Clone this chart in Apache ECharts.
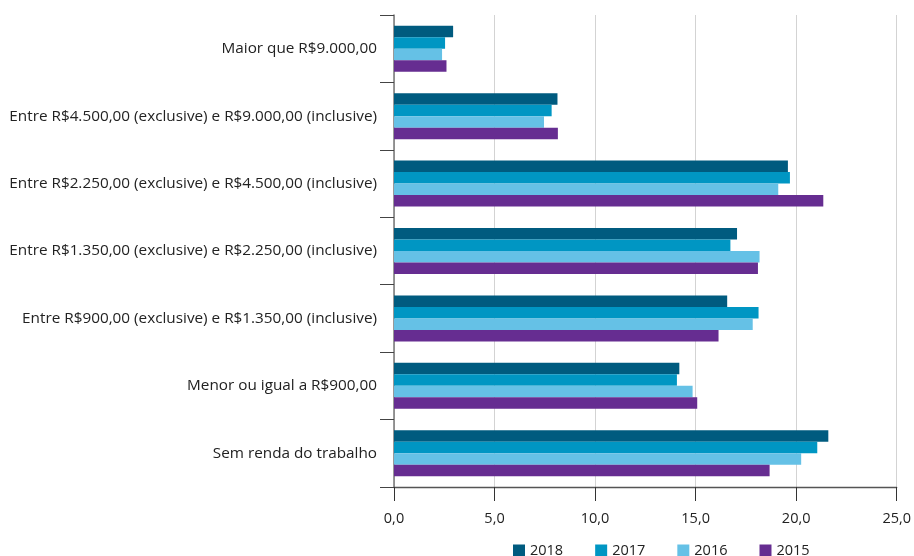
<!DOCTYPE html>
<html>
<head>
<meta charset="utf-8">
<script src="https://cdn.jsdelivr.net/npm/echarts@6/dist/echarts.min.js"></script>
<style>html,body{margin:0;padding:0;background:#fff}#c{width:914px;height:556px}</style>
</head>
<body>
<div id="c"></div>
<script>
const categories = [
  'Maior que R$9.000,00',
  'Entre R$4.500,00 (exclusive) e R$9.000,00 (inclusive)',
  'Entre R$2.250,00 (exclusive) e R$4.500,00 (inclusive)',
  'Entre R$1.350,00 (exclusive) e R$2.250,00 (inclusive)',
  'Entre R$900,00 (exclusive) e R$1.350,00 (inclusive)',
  'Menor ou igual a R$900,00',
  'Sem renda do trabalho'
];
const seriesNames = ['2018', '2017', '2016', '2015'];
const v2018 = [2.94, 8.13, 19.59, 17.06, 16.57, 14.19, 21.60];
const v2017 = [2.54, 7.84, 19.69, 16.73, 18.13, 14.07, 21.05];
const v2016 = [2.39, 7.46, 19.11, 18.18, 17.84, 14.85, 20.25];
const v2015 = [2.61, 8.15, 21.35, 18.10, 16.14, 15.08, 18.68];
const colors = ['#005b7f', '#0096c3', '#65c1e6', '#662d91'];

const FONT = '"Open Sans", sans-serif';
const chart = echarts.init(document.getElementById('c'));
const data = [v2018, v2017, v2016, v2015];
chart.setOption({
  animation: false,
  color: colors,
  textStyle: { fontFamily: FONT },
  grid: { left: 394, right: 15, top: 15, bottom: 69 },
  legend: {
    top: 538, left: 508,
    itemWidth: 12, itemHeight: 12, itemGap: 32,
    icon: 'rect',
    textStyle: { fontSize: 14.5, color: '#222', fontFamily: FONT },
    data: seriesNames
  },
  xAxis: {
    type: 'value', min: 0, max: 25, interval: 5,
    axisLine: { show: true, lineStyle: { color: '#555', width: 1.3 } },
    axisTick: { show: true, length: 14, lineStyle: { color: '#333' } },
    axisLabel: { margin: 24, fontSize: 14.5, color: '#222', fontFamily: FONT,
      formatter: v => v.toFixed(1).replace('.', ',') },
    splitLine: { show: true, lineStyle: { color: '#d3d3d3', width: 1 } }
  },
  yAxis: {
    type: 'category', inverse: true, data: categories,
    axisLine: { show: true, lineStyle: { color: '#777', width: 1.5 } },
    axisTick: { show: true, length: 14, lineStyle: { color: '#444' } },
    axisLabel: { margin: 17, fontSize: 15.3, color: '#222', fontFamily: FONT }
  },
  series: seriesNames.map((n, i) => ({
    name: n, type: 'bar', data: data[i],
    barWidth: 11.5, barGap: '0%',
    itemStyle: { color: colors[i] }
  }))
});
</script>
</body>
</html>
